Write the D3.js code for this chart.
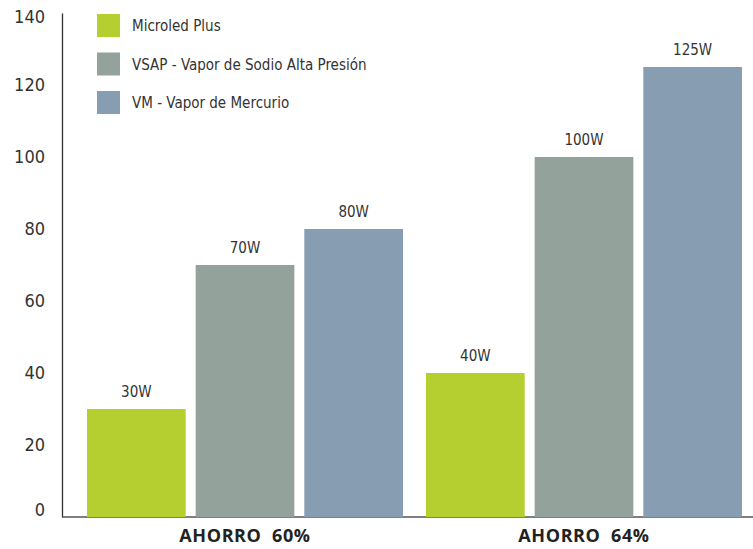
<!DOCTYPE html>
<html>
<head>
<meta charset="utf-8">
<script src="https://cdn.jsdelivr.net/npm/d3@7"></script>
<style>
  body { margin: 0; background: #fff; }
  svg { display: block; }
</style>
</head>
<body>
<div id="chart"></div>
<script>
// Chart data
const groups = ["AHORRO  60%", "AHORRO  64%"];
const seriesNames = ["Microled Plus", "VSAP - Vapor de Sodio Alta Presión", "VM - Vapor de Mercurio"];
const microled = [30, 40];
const vsap = [70, 100];
const vm = [80, 125];
const yTicks = [0, 20, 40, 60, 80, 100, 120, 140];
const colors = ["#b6cf30", "#93a39b", "#879db2"];

const width = 753, height = 549;
const seriesValues = [microled, vsap, vm];

const svg = d3.select("#chart").append("svg")
    .attr("width", width)
    .attr("height", height);

// scales
const y = d3.scaleLinear().domain([0, 140]).range([517, 13]);

const x0 = d3.scaleBand()
    .domain(groups)
    .range([62, 767])
    .paddingInner(23 / 339)
    .paddingOuter(25 / 339);

const x1 = d3.scaleBand()
    .domain(seriesNames)
    .range([0, x0.bandwidth()])
    .paddingInner(10 / 109)
    .paddingOuter(0);

const fontFam = "'DejaVu Sans Condensed', 'Open Sans', sans-serif";

// y axis
const yAxis = svg.append("g")
    .attr("transform", "translate(62,0)")
    .call(d3.axisLeft(y).tickValues(yTicks).tickSize(0).tickPadding(17));
yAxis.select(".domain").attr("stroke", "#333").attr("stroke-width", 1.3);
yAxis.selectAll("text")
    .style("font-family", fontFam)
    .style("font-size", "18px")
    .attr("fill", "#333");
yAxis.selectAll(".tick").filter(d => d === 0).select("text").attr("dy", "-0.1em");
yAxis.selectAll(".tick").filter(d => d === 140).select("text").attr("dy", "0.5em");

// x baseline
svg.append("line")
    .attr("x1", 62).attr("x2", width)
    .attr("y1", y(0)).attr("y2", y(0))
    .attr("stroke", "#555").attr("stroke-width", 1.5);

// bars
const rows = [];
groups.forEach((g, gi) => {
    seriesNames.forEach((s, si) => {
        rows.push({ group: g, series: s, si: si, value: seriesValues[si][gi] });
    });
});

const barG = svg.append("g");
barG.selectAll("rect")
    .data(rows)
    .enter().append("rect")
    .attr("x", d => x0(d.group) + x1(d.series))
    .attr("y", d => y(d.value))
    .attr("width", x1.bandwidth())
    .attr("height", d => y(0) - y(d.value))
    .attr("fill", d => colors[d.si]);

// value labels
barG.selectAll("text")
    .data(rows)
    .enter().append("text")
    .attr("x", d => x0(d.group) + x1(d.series) + x1.bandwidth() / 2)
    .attr("y", d => y(d.value) - 12)
    .attr("text-anchor", "middle")
    .style("font-family", fontFam)
    .style("font-size", "15px")
    .attr("fill", "#333")
    .text(d => d.value + "W");

// category labels
svg.selectAll(".cat")
    .data(groups)
    .enter().append("text")
    .attr("class", "cat")
    .attr("x", d => x0(d) + x0.bandwidth() / 2)
    .attr("y", 542)
    .attr("text-anchor", "middle")
    .style("font-family", "'Open Sans', sans-serif")
    .style("font-weight", "bold")
    .style("font-size", "18px")
    .style("letter-spacing", "0.6px")
    .style("white-space", "pre")
    .attr("fill", "#222")
    .text(d => d);

// legend
const legend = svg.append("g");
seriesNames.forEach((name, i) => {
    legend.append("rect")
        .attr("x", 97).attr("y", 14 + i * 38.5)
        .attr("width", 23).attr("height", 23)
        .attr("fill", colors[i]);
    legend.append("text")
        .attr("x", 132).attr("y", 14 + i * 38.5 + 17)
        .style("font-family", fontFam)
        .style("font-size", "15px")
        .attr("fill", "#333")
        .text(name);
});
</script>
</body>
</html>
